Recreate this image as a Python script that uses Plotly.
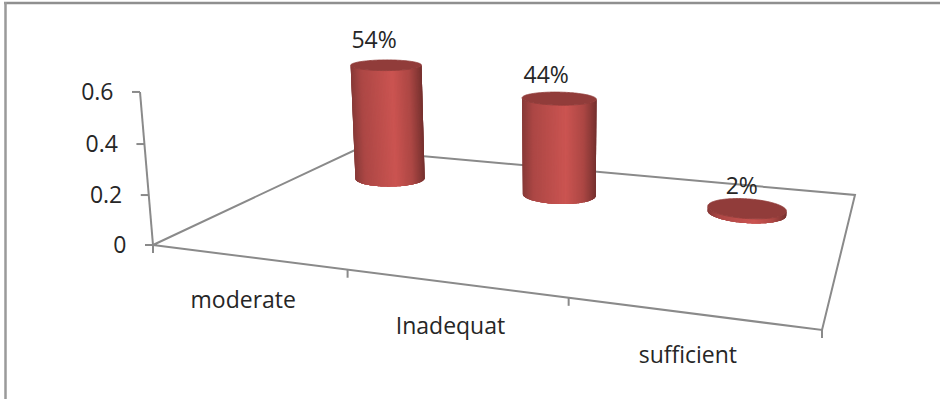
import numpy as np
import plotly.graph_objects as go

# Chart content
categories = ["moderate", "Inadequat", "sufficient"]
values = [0.54, 0.44, 0.02]
value_labels = ["54%", "44%", "2%"]
value_ticks = [0, 0.2, 0.4, 0.6]
value_tick_labels = ["0", "0.2", "0.4", "0.6"]

# Perspective camera: maps (category position, depth, value) onto the page.
CAMERA = np.array([
    [521.3 / 3, 326.2, -0.0516 * 560, 153.0],
    [25.7 / 3, -42.5, -0.0516 * 5035, 245.0],
    [-0.1797 / 3, 0.3499, -0.0516, 1.0],
])
N_CATEGORIES = len(categories)
VALUE_MAX = value_ticks[-1]
ROW_DEPTH = 0.73        # depth of the row of cylinders on the floor
RADIUS_U = 0.197        # cylinder radius in category units
RADIUS_V = 0.09         # cylinder radius in depth units
RING_POINTS = 160
STRIP_OVERLAP = 4       # each side strip runs this many ring steps under the next ones
FONT = "Open Sans"
FONT_SIZE = 23
TEXT_COLOR = "#262626"
AXIS_COLOR = "#8a8a8a"
TOP_COLOR = "#913c3a"
SHADE_STOPS = [(0.0, (136, 58, 56)), (0.14, (172, 71, 69)), (0.58, (203, 84, 81)),
               (0.82, (172, 71, 68)), (1.0, (118, 49, 47))]
LABEL_SHIFT = [(-12, -23), (-13, -21), (-5, -20)]
CATEGORY_SHIFT = [(-4, 45), (-4, 45), (-3, 44)]


def project(u, v, w):
    """Project floor position (u, v) at height w to page coordinates."""
    u, v, w = np.asarray(u, float), np.asarray(v, float), np.asarray(w, float)
    x, y, h = CAMERA @ np.array([u, v, w, np.ones_like(u)])
    return x / h, y / h


def shade(p):
    pos = [s[0] for s in SHADE_STOPS]
    rgb = [np.interp(p, pos, [s[1][i] for s in SHADE_STOPS]) for i in range(3)]
    return "rgb({:.0f},{:.0f},{:.0f})".format(*rgb)


fig = go.Figure()


def add_line(xs, ys, width=2):
    fig.add_trace(go.Scatter(x=xs, y=ys, mode="lines", hoverinfo="skip",
                             line=dict(color=AXIS_COLOR, width=width)))


def add_text(x, y, text, position="middle center"):
    fig.add_trace(go.Scatter(x=[float(x)], y=[float(y)], mode="text", text=[text],
                             textposition=position,
                             textfont=dict(family=FONT, size=FONT_SIZE, color=TEXT_COLOR),
                             hoverinfo="skip"))


# Floor outline and the value axis
corner_u = np.array([0, N_CATEGORIES, N_CATEGORIES, 0, 0])
corner_v = np.array([0, 0, 1, 1, 0])
fx, fy = project(corner_u, corner_v, 0 * corner_u)
add_line(fx.tolist(), fy.tolist())
ax_x, ax_y = project([0, 0], [0, 0], [0, VALUE_MAX])
add_line(ax_x.tolist(), ax_y.tolist())

# Value ticks and labels
for tick, text in zip(value_ticks, value_tick_labels):
    tx, ty = project(0.0, 0.0, tick)
    add_line([float(tx) - 8, float(tx)], [float(ty), float(ty)])
    add_text(float(tx) - 26.5, float(ty) + 2, text, "middle left")

# Category ticks and labels
for i in range(N_CATEGORIES + 1):
    tx, ty = project(float(i), 0.0, 0.0)
    add_line([float(tx), float(tx)], [float(ty), float(ty) + 8])
for i, name in enumerate(categories):
    tx, ty = project(i + 0.5, 0.0, 0.0)
    add_text(float(tx) + CATEGORY_SHIFT[i][0], float(ty) + CATEGORY_SHIFT[i][1], name)

# Cylinders: overlapping side strips painted left to right so the shading has
# no seams, then the top cap goes on last
angles = np.linspace(0, 2 * np.pi, RING_POINTS, endpoint=False)
for i, value in enumerate(values):
    cu = i + 0.5 + RADIUS_U * np.cos(angles)
    cv = ROW_DEPTH + RADIUS_V * np.sin(angles)
    bx, by = project(cu, cv, 0 * cu)
    tx, ty = project(cu, cv, 0 * cu + value)
    first, last = int(np.argmin(bx)), int(np.argmax(bx))
    steps = (last - first) % RING_POINTS
    arc = [(first + j) % RING_POINTS for j in range(steps + 1)]
    lo, hi = bx[first], bx[last]
    for j in range(steps):
        rest = arc[j:j + 1 + STRIP_OVERLAP]
        c = shade(np.clip((bx[rest[0]] - lo) / (hi - lo), 0, 1))
        fig.add_trace(go.Scatter(
            x=np.concatenate([bx[rest], tx[rest[::-1]], bx[rest[:1]]]).tolist(),
            y=np.concatenate([by[rest], ty[rest[::-1]], by[rest[:1]]]).tolist(),
            mode="lines", fill="toself", fillcolor=c,
            line=dict(width=0, simplify=False), hoverinfo="skip"))
    fig.add_trace(go.Scatter(x=np.append(tx, tx[0]).tolist(), y=np.append(ty, ty[0]).tolist(),
                             mode="lines", fill="toself",
                             fillcolor=TOP_COLOR, line=dict(color=TOP_COLOR, width=0.8, simplify=False),
                             hoverinfo="skip"))

# Value labels above each cylinder
for i, (value, text) in enumerate(zip(values, value_labels)):
    lx, ly = project(i + 0.5, ROW_DEPTH, value)
    add_text(float(lx) + LABEL_SHIFT[i][0], float(ly) + LABEL_SHIFT[i][1], text)

fig.update_layout(
    width=940, height=399, margin=dict(l=0, r=0, t=0, b=0),
    paper_bgcolor="white", plot_bgcolor="white", showlegend=False,
    xaxis=dict(range=[0, 940], visible=False, fixedrange=True),
    yaxis=dict(range=[399, 0], visible=False, fixedrange=True),
    # Frame of the chart area along the top and left edges
    shapes=[
        dict(type="line", xref="x", yref="y", x0=4, x1=940, y0=3, y1=3,
             line=dict(color="#8f8f8f", width=2.5)),
        dict(type="line", xref="x", yref="y", x0=5.5, x1=5.5, y0=2, y1=399,
             line=dict(color="#9a9a9a", width=2.5)),
    ],
)
fig.write_html("out.html", config=dict(displayModeBar=False))
